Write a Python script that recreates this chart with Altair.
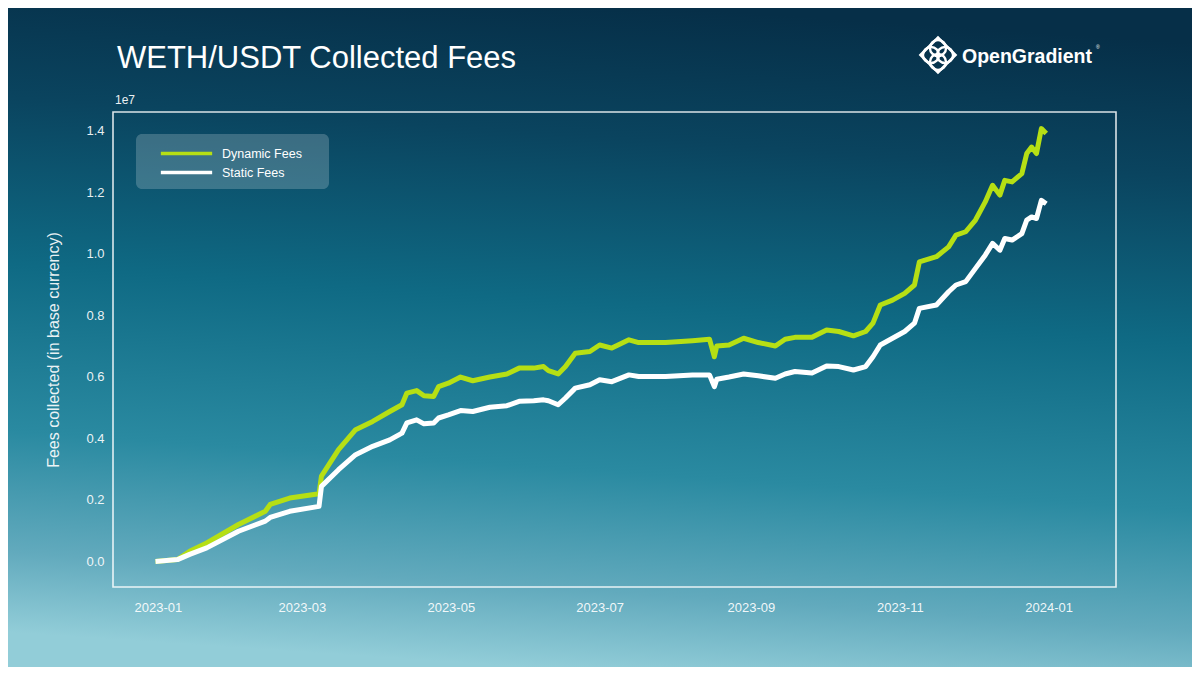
import altair as alt
import pandas as pd

dates = [
    "2022-12-31", "2023-01-09", "2023-01-14", "2023-01-21", "2023-02-03", "2023-02-14", "2023-02-16",
    "2023-02-24", "2023-03-08", "2023-03-09", "2023-03-16", "2023-03-23", "2023-03-30", "2023-04-06",
    "2023-04-11", "2023-04-13", "2023-04-17", "2023-04-20", "2023-04-24", "2023-04-26", "2023-04-30",
    "2023-05-05", "2023-05-10", "2023-05-17", "2023-05-24", "2023-05-29", "2023-06-04", "2023-06-08",
    "2023-06-10", "2023-06-14", "2023-06-17", "2023-06-21", "2023-06-27", "2023-07-01", "2023-07-06",
    "2023-07-13", "2023-07-17", "2023-07-28", "2023-08-08", "2023-08-15", "2023-08-17", "2023-08-18",
    "2023-08-23", "2023-08-29", "2023-09-04", "2023-09-11", "2023-09-15", "2023-09-19", "2023-09-26",
    "2023-10-02", "2023-10-07", "2023-10-13", "2023-10-18", "2023-10-21", "2023-10-24", "2023-10-29",
    "2023-11-03", "2023-11-07", "2023-11-09", "2023-11-16", "2023-11-21", "2023-11-24", "2023-11-28",
    "2023-12-02", "2023-12-06", "2023-12-09", "2023-12-12", "2023-12-14", "2023-12-17", "2023-12-21",
    "2023-12-23", "2023-12-25", "2023-12-27", "2023-12-29", "2023-12-31",
]

# fees collected, in units of 1e7
dynamic_fees = [
    0.0, 0.006, 0.033, 0.06, 0.12, 0.163, 0.185, 0.206, 0.22, 0.277,
    0.363, 0.428, 0.455, 0.487, 0.509, 0.547, 0.555, 0.538, 0.536, 0.568,
    0.579, 0.599, 0.587, 0.599, 0.609, 0.628, 0.628, 0.633, 0.62, 0.609,
    0.633, 0.676, 0.682, 0.703, 0.693, 0.72, 0.711, 0.711, 0.717, 0.722,
    0.665, 0.70, 0.703, 0.725, 0.711, 0.70, 0.722, 0.728, 0.728, 0.752,
    0.747, 0.733, 0.747, 0.774, 0.833, 0.849, 0.871, 0.898, 0.973, 0.99,
    1.022, 1.06, 1.071, 1.109, 1.168, 1.222, 1.19, 1.238, 1.233, 1.26,
    1.325, 1.346, 1.325, 1.406, 1.39,
]
static_fees = [
    0.0, 0.006, 0.023, 0.044, 0.098, 0.131, 0.143, 0.163, 0.179, 0.244,
    0.298, 0.347, 0.374, 0.395, 0.417, 0.45, 0.46, 0.447, 0.45, 0.466,
    0.476, 0.49, 0.487, 0.501, 0.506, 0.52, 0.522, 0.525, 0.522, 0.509,
    0.531, 0.563, 0.574, 0.59, 0.584, 0.606, 0.601, 0.601, 0.606, 0.606,
    0.568, 0.592, 0.599, 0.609, 0.603, 0.595, 0.609, 0.617, 0.612, 0.635,
    0.633, 0.622, 0.633, 0.665, 0.703, 0.725, 0.747, 0.774, 0.822, 0.833,
    0.876, 0.898, 0.909, 0.952, 0.995, 1.033, 1.011, 1.049, 1.044, 1.065,
    1.109, 1.119, 1.114, 1.173, 1.162,
]
series_names = ["Dynamic Fees", "Static Fees"]
series_colors = ["#b6df14", "#ffffff"]
y_ticks = [0.0, 0.2, 0.4, 0.6, 0.8, 1.0, 1.2, 1.4]
x_ticks = [(2023, 1), (2023, 3), (2023, 5), (2023, 7), (2023, 9), (2023, 11), (2024, 1)]

df = pd.concat([
    pd.DataFrame({"Date": dates, "Fees": dynamic_fees, "Series": series_names[0]}),
    pd.DataFrame({"Date": dates, "Fees": static_fees, "Series": series_names[1]}),
], ignore_index=True)

W, H = 1003, 475
PAD = {"left": 105, "top": 104, "right": 76, "bottom": 80}
FONT = "Liberation Sans"

one = alt.Data(values=[{}])

bg = alt.Chart(one).mark_rect(
    fill={
        "gradient": "linear",
        "x1": 0.56, "y1": 0, "x2": 0.44, "y2": 1,
        "stops": [
            {"offset": 0.0, "color": "#062f48"},
            {"offset": 0.2, "color": "#0a445f"},
            {"offset": 0.45, "color": "#0f6a84"},
            {"offset": 0.7, "color": "#2a8aa1"},
            {"offset": 0.88, "color": "#62aabd"},
            {"offset": 1.0, "color": "#92cdd8"},
        ],
    }
).encode(
    x=alt.value(-PAD["left"]), x2=alt.value(W + PAD["right"]),
    y=alt.value(-PAD["top"]), y2=alt.value(H + PAD["bottom"]),
)

frame = alt.Chart(one).mark_rect(
    fillOpacity=0, stroke="#ffffff", strokeWidth=1.6, strokeOpacity=0.85
).encode(x=alt.value(0), x2=alt.value(W), y=alt.value(0), y2=alt.value(H))

legend_box = alt.Chart(one).mark_rect(
    fill="#ffffff", fillOpacity=0.2, cornerRadius=6
).encode(x=alt.value(23), x2=alt.value(216), y=alt.value(22), y2=alt.value(77))

lines = alt.Chart(df).mark_line(strokeWidth=5, strokeJoin="round").encode(
    x=alt.X(
        "Date:T",
        scale=alt.Scale(domain=[
            alt.DateTime(year=2022, month=12, date=13, hours=14),
            alt.DateTime(year=2024, month=1, date=28, hours=14),
        ]),
        axis=alt.Axis(
            values=[alt.DateTime(year=y, month=m, date=1) for y, m in x_ticks],
            format="%Y-%m", title=None, domain=False, grid=False, ticks=False, tickSize=0,
            labelPadding=14, labelFontSize=13, labelColor="#ffffff", labelOpacity=0.92,
            labelFont=FONT, zindex=1,
        ),
    ),
    y=alt.Y(
        "Fees:Q",
        scale=alt.Scale(domain=[-0.083, 1.46], nice=False, zero=False),
        axis=alt.Axis(
            values=y_ticks, format=".1f", title="Fees collected (in base currency)",
            domain=False, grid=False, ticks=False, tickSize=0, labelPadding=9,
            labelFontSize=13, labelColor="#ffffff", labelOpacity=0.92, labelFont=FONT,
            titleFont=FONT, titleFontSize=16, titleFontWeight="normal", titleColor="#ffffff",
            titleOpacity=0.92, titleAngle=-90, titleX=-60, titleY=H / 2,
            titleAlign="center", titleBaseline="middle", zindex=1,
        ),
    ),
    color=alt.Color(
        "Series:N",
        scale=alt.Scale(domain=series_names, range=series_colors),
        legend=alt.Legend(
            title=None, orient="none", legendX=23, legendY=20, padding=10,
            symbolType="M-2.7,0H2.7", symbolSize=361, symbolStrokeWidth=3.5, symbolOffset=29,
            labelFont=FONT, labelFontSize=12.5, labelColor="#ffffff", labelOffset=24,
            rowPadding=0, zindex=1,
        ),
    ),
    order=alt.Order("Series:N", sort="ascending"),
)

title = alt.Chart(one).mark_text(
    text="WETH/USDT Collected Fees", font=FONT, fontSize=31, color="#ffffff",
    align="left", baseline="alphabetic",
).encode(x=alt.value(4), y=alt.value(-44))

exp = alt.Chart(one).mark_text(
    text="1e7", font=FONT, fontSize=12, color="#ffffff", opacity=0.92,
    align="left", baseline="middle",
).encode(x=alt.value(2), y=alt.value(-12))

brand = alt.Chart(one).mark_text(
    text="OpenGradient", font=FONT, fontSize=19.5, fontWeight="bold", color="#ffffff",
    align="left", baseline="alphabetic",
).encode(x=alt.value(962 - 113), y=alt.value(63 - 112))

reg = alt.Chart(one).mark_text(
    text="®", font=FONT, fontSize=5, color="#ffffff", align="left", baseline="middle",
).encode(x=alt.value(1096 - 113), y=alt.value(47 - 112))

cx, cy = 938 - 113, 55 - 112
logo_ring = alt.Chart(one).mark_point(
    shape="diamond", size=1225, filled=False, stroke="#ffffff", strokeWidth=2.6, opacity=1
).encode(x=alt.value(cx), y=alt.value(cy))
logo_c1 = alt.Chart(one).mark_point(shape="circle", size=260, filled=False, stroke="#ffffff", strokeWidth=2.4, opacity=1).encode(x=alt.value(cx - 7), y=alt.value(cy))
logo_c2 = alt.Chart(one).mark_point(shape="circle", size=260, filled=False, stroke="#ffffff", strokeWidth=2.4, opacity=1).encode(x=alt.value(cx + 7), y=alt.value(cy))
logo_c3 = alt.Chart(one).mark_point(shape="circle", size=260, filled=False, stroke="#ffffff", strokeWidth=2.4, opacity=1).encode(x=alt.value(cx), y=alt.value(cy - 7))
logo_c4 = alt.Chart(one).mark_point(shape="circle", size=260, filled=False, stroke="#ffffff", strokeWidth=2.4, opacity=1).encode(x=alt.value(cx), y=alt.value(cy + 7))

chart = alt.layer(
    bg, frame, legend_box, lines, title, exp, brand, reg,
    logo_ring, logo_c1, logo_c2, logo_c3, logo_c4
).properties(
    width=W, height=H, autosize="none", padding=PAD,
).configure(
    background="#0d5069",
).configure_view(stroke=None)

chart.save("out.html", embed_options={"renderer": "svg", "actions": False})
